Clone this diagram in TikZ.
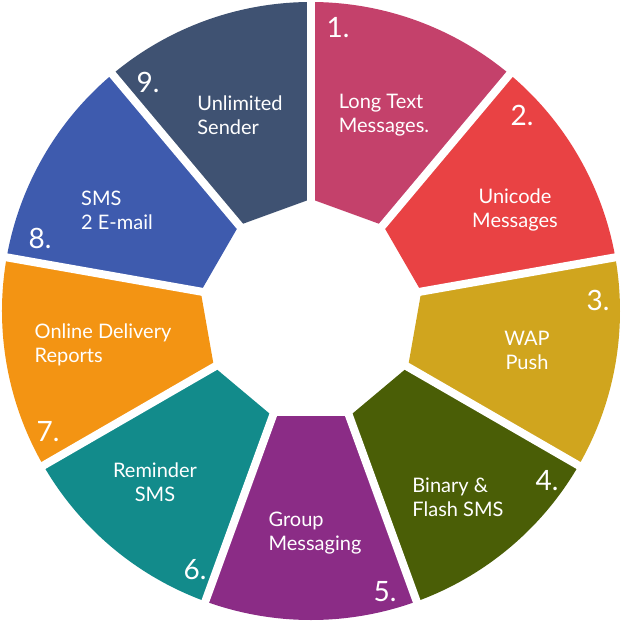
\documentclass[tikz,border=0pt]{standalone}
\usepackage{fontspec}
\setmainfont{Lato}
\definecolor{segA}{HTML}{C4416B}
\definecolor{segB}{HTML}{E94244}
\definecolor{segC}{HTML}{D0A51E}
\definecolor{segD}{HTML}{4A5E06}
\definecolor{segE}{HTML}{8B2C86}
\definecolor{segF}{HTML}{128B8B}
\definecolor{segG}{HTML}{F39413}
\definecolor{segH}{HTML}{3E5BAE}
\definecolor{segI}{HTML}{3F5272}
\begin{document}
\begin{tikzpicture}[x=1pt,y=1pt,
  label/.style={text=white,font=\fontsize{20}{24}\selectfont,align=center},
  num/.style={text=white,font=\fontsize{28}{30}\selectfont}]
% Parameters
\def\rout{309}; \def\rin{112};
\useasboundingbox (-311,-311) rectangle (311,311);

% Segments
\foreach \c [count=\i from 0] in {segA,segB,segC,segD,segE,segF,segG,segH,segI}{
  \pgfmathsetmacro\aone{90-40*\i}
  \pgfmathsetmacro\atwo{50-40*\i}
  \fill[\c] (\aone:\rout) arc[start angle=\aone,end angle=\atwo,radius=\rout]
    -- (\atwo:\rin) -- (\aone:\rin) -- cycle;
}
% Gaps
\foreach \i in {0,...,8}
  \draw[white,line width=8pt] (90-40*\i:\rin-5) -- (90-40*\i:\rout+5);

% Labels
\node[label,align=left] (long) at (73,196) {Long Text\\Messages.};
\node[label] (unicode) at (204,101) {Unicode\\Messages};
\node[label] (wap) at (216,-39) {WAP\\Push};
\node[label,align=left] (binary) at (147,-186) {Binary \&\\Flash SMS};
\node[label,align=left] (group) at (4,-222) {Group\\Messaging};
\node[label] (reminder) at (-156,-171) {Reminder\\SMS};
\node[label,align=left] (online) at (-208,-34) {Online Delivery\\Reports};
\node[label,align=left] (email) at (-194,101) {SMS\\2 E-mail};
\node[label,align=left] (sender) at (-71,196) {Unlimited\\Sender};

% Numbers
\node[num] (n1) at (27,283) {1.};
\node[num] (n2) at (211,196) {2.};
\node[num] (n3) at (287,11) {3.};
\node[num] (n4) at (236,-170) {4.};
\node[num] (n5) at (74,-281) {5.};
\node[num] (n6) at (-116,-259) {6.};
\node[num] (n7) at (-263,-121) {7.};
\node[num] (n8) at (-271,73) {8.};
\node[num] (n9) at (-163,229) {9.};
\end{tikzpicture}
\end{document}
